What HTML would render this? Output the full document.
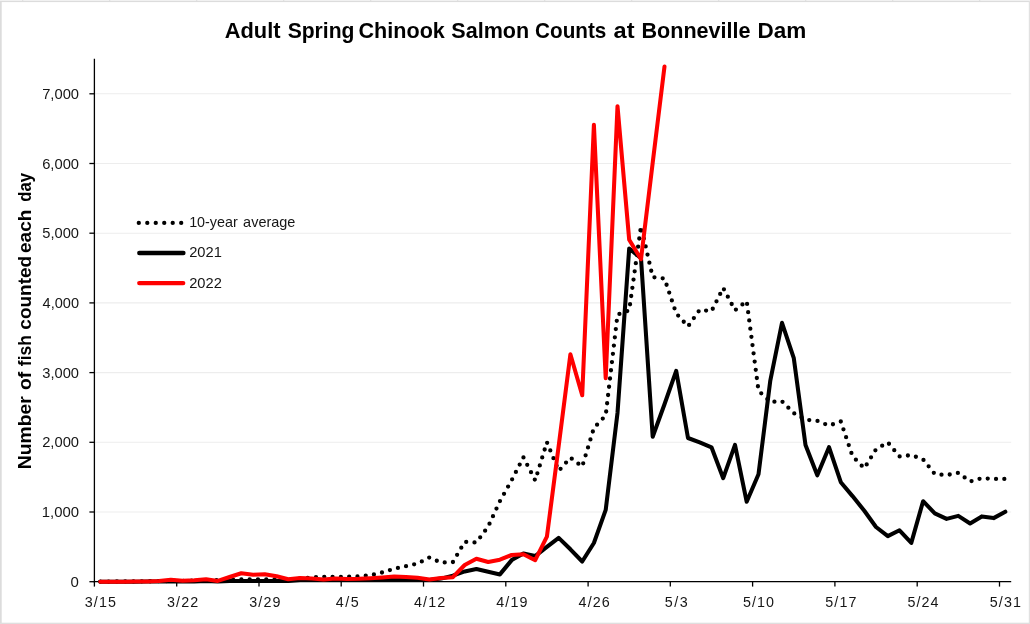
<!DOCTYPE html>
<html lang="en"><head><meta charset="utf-8"><title>Adult Spring Chinook Salmon Counts at Bonneville Dam</title>
<style>html,body{margin:0;padding:0;background:#fff}body{width:1030px;height:624px;overflow:hidden}svg{display:block;filter:blur(0.55px)}text{font-family:"Liberation Sans", sans-serif}</style></head><body>
<svg width="1030" height="624" viewBox="0 0 1030 624">
<rect x="0" y="0" width="1030" height="624" fill="#ffffff"/>
<rect x="0" y="0" width="1030" height="1.2" fill="#f1f1f1"/>
<rect x="0" y="1" width="1030" height="1.1" fill="#dcdcdc"/>
<rect x="0" y="1" width="1.7" height="623" fill="#dcdcdc"/>
<rect x="1028.8" y="1" width="1.2" height="623" fill="#e1e1e1"/>
<rect x="0" y="622.7" width="1030" height="1.3" fill="#dfdfdf"/>
<rect x="22.2" y="0" width="1" height="1.2" fill="#dcdcdc"/>
<rect x="109.2" y="0" width="1" height="1.2" fill="#dcdcdc"/>
<rect x="196.2" y="0" width="1" height="1.2" fill="#dcdcdc"/>
<rect x="283.2" y="0" width="1" height="1.2" fill="#dcdcdc"/>
<rect x="370.2" y="0" width="1" height="1.2" fill="#dcdcdc"/>
<rect x="457.2" y="0" width="1" height="1.2" fill="#dcdcdc"/>
<rect x="544.2" y="0" width="1" height="1.2" fill="#dcdcdc"/>
<rect x="631.2" y="0" width="1" height="1.2" fill="#dcdcdc"/>
<rect x="718.2" y="0" width="1" height="1.2" fill="#dcdcdc"/>
<rect x="805.2" y="0" width="1" height="1.2" fill="#dcdcdc"/>
<rect x="892.2" y="0" width="1" height="1.2" fill="#dcdcdc"/>
<rect x="979.2" y="0" width="1" height="1.2" fill="#dcdcdc"/>
<line x1="94.4" y1="512.0" x2="1011.2" y2="512.0" stroke="#ededed" stroke-width="1.1"/>
<line x1="94.4" y1="442.3" x2="1011.2" y2="442.3" stroke="#ededed" stroke-width="1.1"/>
<line x1="94.4" y1="372.6" x2="1011.2" y2="372.6" stroke="#ededed" stroke-width="1.1"/>
<line x1="94.4" y1="302.9" x2="1011.2" y2="302.9" stroke="#ededed" stroke-width="1.1"/>
<line x1="94.4" y1="233.2" x2="1011.2" y2="233.2" stroke="#ededed" stroke-width="1.1"/>
<line x1="94.4" y1="163.5" x2="1011.2" y2="163.5" stroke="#ededed" stroke-width="1.1"/>
<line x1="94.4" y1="93.8" x2="1011.2" y2="93.8" stroke="#ededed" stroke-width="1.1"/>
<line x1="94.4" y1="58.8" x2="94.4" y2="582.4" stroke="#000" stroke-width="1.3"/>
<line x1="93.8" y1="581.7" x2="1011.2" y2="581.7" stroke="#000" stroke-width="1.3"/>
<line x1="89.4" y1="581.7" x2="94.4" y2="581.7" stroke="#000" stroke-width="1.3"/>
<line x1="89.4" y1="512.0" x2="94.4" y2="512.0" stroke="#000" stroke-width="1.3"/>
<line x1="89.4" y1="442.3" x2="94.4" y2="442.3" stroke="#000" stroke-width="1.3"/>
<line x1="89.4" y1="372.6" x2="94.4" y2="372.6" stroke="#000" stroke-width="1.3"/>
<line x1="89.4" y1="302.9" x2="94.4" y2="302.9" stroke="#000" stroke-width="1.3"/>
<line x1="89.4" y1="233.2" x2="94.4" y2="233.2" stroke="#000" stroke-width="1.3"/>
<line x1="89.4" y1="163.5" x2="94.4" y2="163.5" stroke="#000" stroke-width="1.3"/>
<line x1="89.4" y1="93.8" x2="94.4" y2="93.8" stroke="#000" stroke-width="1.3"/>
<line x1="94.4" y1="581.7" x2="94.4" y2="586.6" stroke="#000" stroke-width="1.3"/>
<line x1="176.7" y1="581.7" x2="176.7" y2="586.6" stroke="#000" stroke-width="1.3"/>
<line x1="259.0" y1="581.7" x2="259.0" y2="586.6" stroke="#000" stroke-width="1.3"/>
<line x1="341.2" y1="581.7" x2="341.2" y2="586.6" stroke="#000" stroke-width="1.3"/>
<line x1="423.5" y1="581.7" x2="423.5" y2="586.6" stroke="#000" stroke-width="1.3"/>
<line x1="505.8" y1="581.7" x2="505.8" y2="586.6" stroke="#000" stroke-width="1.3"/>
<line x1="588.1" y1="581.7" x2="588.1" y2="586.6" stroke="#000" stroke-width="1.3"/>
<line x1="670.3" y1="581.7" x2="670.3" y2="586.6" stroke="#000" stroke-width="1.3"/>
<line x1="752.6" y1="581.7" x2="752.6" y2="586.6" stroke="#000" stroke-width="1.3"/>
<line x1="834.9" y1="581.7" x2="834.9" y2="586.6" stroke="#000" stroke-width="1.3"/>
<line x1="917.2" y1="581.7" x2="917.2" y2="586.6" stroke="#000" stroke-width="1.3"/>
<line x1="999.5" y1="581.7" x2="999.5" y2="586.6" stroke="#000" stroke-width="1.3"/>
<polyline points="100.3,581.6 112.0,581.5 123.8,581.4 135.5,581.4 147.3,581.3 159.0,581.1 170.8,581.0 182.6,580.9 194.3,580.7 206.1,580.6 217.8,580.2 229.6,579.6 241.3,579.4 253.1,579.3 264.8,579.3 276.6,579.3 288.3,579.2 300.1,578.6 311.8,577.4 323.6,576.8 335.4,577.0 347.1,576.8 358.9,576.4 370.6,575.3 382.4,572.4 394.1,568.8 405.9,566.2 417.6,563.6 429.4,557.5 441.1,562.6 452.9,562.1 464.7,541.8 476.4,542.5 488.2,526.5 499.9,501.2 511.7,480.2 523.4,457.3 535.2,480.4 546.9,442.2 558.7,470.9 570.4,457.6 582.2,466.6 593.9,428.0 605.7,415.5 617.5,314.6 629.2,310.4 641.0,226.2 652.7,277.1 664.5,278.6 676.2,313.4 688.0,326.5 699.7,309.8 711.5,311.3 723.2,287.9 735.0,310.3 746.7,301.1 758.5,390.7 770.3,401.9 782.0,401.3 793.8,413.2 805.5,419.7 817.3,420.8 829.0,425.6 840.8,421.5 852.5,456.2 864.3,468.3 876.0,449.3 887.8,442.4 899.5,456.4 911.3,455.1 923.1,459.4 934.8,474.1 946.6,475.1 958.3,472.8 970.1,481.5 981.8,478.2 993.6,478.9 1005.3,478.9" fill="none" stroke="#000" stroke-width="4.3" stroke-linecap="round" stroke-linejoin="round" stroke-dasharray="0 8.3"/>
<polyline points="100.3,581.7 112.0,581.7 123.8,581.7 135.5,581.7 147.3,581.6 159.0,581.5 170.8,581.4 182.6,581.4 194.3,581.4 206.1,581.1 217.8,581.4 229.6,581.1 241.3,581.0 253.1,581.0 264.8,581.0 276.6,581.0 288.3,580.9 300.1,580.0 311.8,579.7 323.6,580.0 335.4,579.7 347.1,579.9 358.9,579.7 370.6,579.6 382.4,579.5 394.1,579.2 405.9,579.3 417.6,579.6 429.4,580.1 441.1,578.6 452.9,575.7 464.7,571.4 476.4,569.0 488.2,571.8 499.9,574.4 511.7,560.1 523.4,553.5 535.2,556.1 546.9,546.9 558.7,537.9 570.4,549.3 582.2,561.5 593.9,543.0 605.7,509.9 617.5,413.0 629.2,248.5 641.0,258.3 652.7,436.7 664.5,404.3 676.2,370.9 688.0,438.0 699.7,442.3 711.5,447.3 723.2,478.2 735.0,444.8 746.7,501.8 758.5,474.2 770.3,380.6 782.0,322.8 793.8,358.2 805.5,444.9 817.3,475.3 829.0,447.2 840.8,482.2 852.5,496.1 864.3,510.8 876.0,527.0 887.8,536.1 899.5,530.3 911.3,542.9 923.1,501.2 934.8,513.3 946.6,518.9 958.3,515.9 970.1,523.5 981.8,516.4 993.6,518.1 1005.3,511.7" fill="none" stroke="#000" stroke-width="4.05" stroke-linecap="round" stroke-linejoin="round"/>
<polyline points="100.3,581.7 112.0,581.7 123.8,581.7 135.5,581.6 147.3,581.4 159.0,580.9 170.8,579.7 182.6,580.7 194.3,580.3 206.1,579.3 217.8,580.9 229.6,577.0 241.3,573.3 253.1,574.7 264.8,574.2 276.6,576.3 288.3,579.3 300.1,577.9 311.8,578.6 323.6,579.4 335.4,578.4 347.1,579.1 358.9,578.8 370.6,578.2 382.4,577.5 394.1,576.6 405.9,577.1 417.6,577.8 429.4,579.5 441.1,578.0 452.9,577.2 464.7,565.0 476.4,558.7 488.2,562.0 499.9,559.7 511.7,555.0 523.4,554.3 535.2,560.2 546.9,536.7 558.7,445.8 570.4,354.3 582.2,395.3 593.9,124.8 605.7,378.2 617.5,106.2 629.2,239.8 641.0,259.2 652.7,162.8 664.5,66.6" fill="none" stroke="#ff0000" stroke-width="4.05" stroke-linecap="round" stroke-linejoin="round"/>
<text y="586.8" font-size="14.3" fill="#161616"><tspan x="70.60" textLength="8.34" lengthAdjust="spacingAndGlyphs">0</tspan></text>
<text y="517.1" font-size="14.3" fill="#161616"><tspan x="41.71" textLength="37.33" lengthAdjust="spacingAndGlyphs">1,000</tspan></text>
<text y="447.4" font-size="14.3" fill="#161616"><tspan x="42.16" textLength="36.86" lengthAdjust="spacingAndGlyphs">2,000</tspan></text>
<text y="377.7" font-size="14.3" fill="#161616"><tspan x="42.31" textLength="36.71" lengthAdjust="spacingAndGlyphs">3,000</tspan></text>
<text y="308.0" font-size="14.3" fill="#161616"><tspan x="42.61" textLength="36.41" lengthAdjust="spacingAndGlyphs">4,000</tspan></text>
<text y="238.3" font-size="14.3" fill="#161616"><tspan x="42.31" textLength="36.71" lengthAdjust="spacingAndGlyphs">5,000</tspan></text>
<text y="168.6" font-size="14.3" fill="#161616"><tspan x="42.16" textLength="36.86" lengthAdjust="spacingAndGlyphs">6,000</tspan></text>
<text y="98.9" font-size="14.3" fill="#161616"><tspan x="42.16" textLength="36.86" lengthAdjust="spacingAndGlyphs">7,000</tspan></text>
<text y="607.3" font-size="14.3" fill="#161616"><tspan x="84.66" textLength="31.34" lengthAdjust="spacing">3/15</tspan></text>
<text y="607.3" font-size="14.3" fill="#161616"><tspan x="166.93" textLength="31.34" lengthAdjust="spacing">3/22</tspan></text>
<text y="607.3" font-size="14.3" fill="#161616"><tspan x="249.21" textLength="31.34" lengthAdjust="spacing">3/29</tspan></text>
<text y="607.3" font-size="14.3" fill="#161616"><tspan x="335.82" textLength="22.86" lengthAdjust="spacing">4/5</tspan></text>
<text y="607.3" font-size="14.3" fill="#161616"><tspan x="414.05" textLength="31.05" lengthAdjust="spacing">4/12</tspan></text>
<text y="607.3" font-size="14.3" fill="#161616"><tspan x="496.33" textLength="31.05" lengthAdjust="spacing">4/19</tspan></text>
<text y="607.3" font-size="14.3" fill="#161616"><tspan x="578.61" textLength="31.05" lengthAdjust="spacing">4/26</tspan></text>
<text y="607.3" font-size="14.3" fill="#161616"><tspan x="664.65" textLength="23.15" lengthAdjust="spacing">5/3</tspan></text>
<text y="607.3" font-size="14.3" fill="#161616"><tspan x="742.88" textLength="31.19" lengthAdjust="spacing">5/10</tspan></text>
<text y="607.3" font-size="14.3" fill="#161616"><tspan x="825.16" textLength="31.34" lengthAdjust="spacing">5/17</tspan></text>
<text y="607.3" font-size="14.3" fill="#161616"><tspan x="907.43" textLength="31.05" lengthAdjust="spacing">5/24</tspan></text>
<text y="607.3" font-size="14.3" fill="#161616"><tspan x="989.71" textLength="31.34" lengthAdjust="spacing">5/31</tspan></text>
<text y="37.9" font-size="21.2" font-weight="bold" fill="#000"><tspan x="224.75" textLength="55.78" lengthAdjust="spacingAndGlyphs">Adult</tspan> <tspan x="287.67" textLength="66.74" lengthAdjust="spacingAndGlyphs">Spring</tspan> <tspan x="358.54" textLength="86.35" lengthAdjust="spacingAndGlyphs">Chinook</tspan> <tspan x="451.35" textLength="77.78" lengthAdjust="spacingAndGlyphs">Salmon</tspan> <tspan x="535.07" textLength="71.24" lengthAdjust="spacingAndGlyphs">Counts</tspan> <tspan x="613.59" textLength="20.92" lengthAdjust="spacingAndGlyphs">at</tspan> <tspan x="641.49" textLength="109.10" lengthAdjust="spacingAndGlyphs">Bonneville</tspan> <tspan x="757.52" textLength="48.80" lengthAdjust="spacingAndGlyphs">Dam</tspan></text>
<text transform="translate(30.8,468.3) rotate(-90)" y="0" font-size="18.8" font-weight="bold" fill="#000"><tspan x="-0.85" textLength="73.01" lengthAdjust="spacingAndGlyphs">Number</tspan> <tspan x="78.23" textLength="18.14" lengthAdjust="spacingAndGlyphs">of</tspan> <tspan x="102.15" textLength="31.06" lengthAdjust="spacingAndGlyphs">fish</tspan> <tspan x="138.64" textLength="73.87" lengthAdjust="spacingAndGlyphs">counted</tspan> <tspan x="215.24" textLength="43.50" lengthAdjust="spacingAndGlyphs">each</tspan> <tspan x="266.63" textLength="28.72" lengthAdjust="spacingAndGlyphs">day</tspan></text>
<line x1="138.8" y1="222.9" x2="182" y2="222.9" stroke="#000" stroke-width="4.3" stroke-linecap="round" stroke-dasharray="0 8.48"/>
<line x1="139.3" y1="253.0" x2="183.4" y2="253.0" stroke="#000" stroke-width="4.4" stroke-linecap="round"/>
<line x1="139.3" y1="283.1" x2="183.2" y2="283.1" stroke="#ff0000" stroke-width="4.4" stroke-linecap="round"/>
<text y="226.7" font-size="14.3" fill="#161616"><tspan x="189.15" textLength="48.64" lengthAdjust="spacingAndGlyphs">10-year</tspan> <tspan x="243.12" textLength="52.31" lengthAdjust="spacingAndGlyphs">average</tspan></text>
<text y="257.4" font-size="14.3" fill="#161616"><tspan x="189.17" textLength="32.64" lengthAdjust="spacingAndGlyphs">2021</tspan></text>
<text y="287.8" font-size="14.3" fill="#161616"><tspan x="189.17" textLength="32.64" lengthAdjust="spacingAndGlyphs">2022</tspan></text>
</svg></body></html>
